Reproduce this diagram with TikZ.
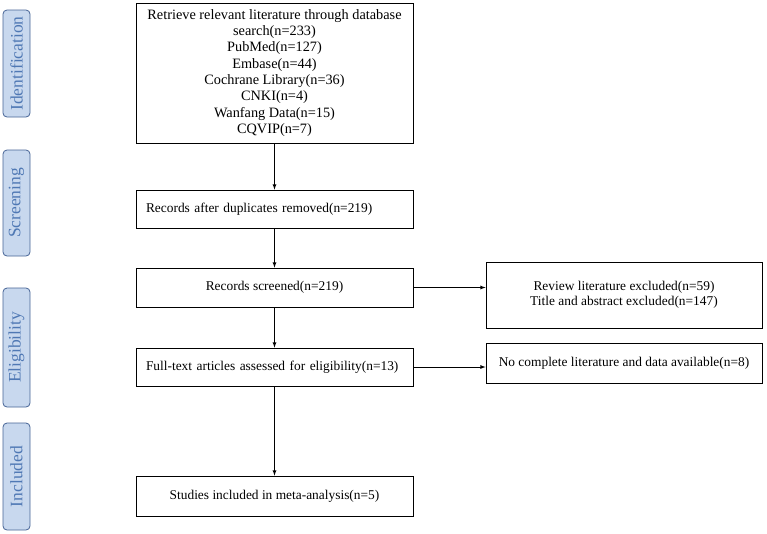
\documentclass[tikz,border=0pt]{standalone}
\usepackage{fontspec}
\setmainfont{Liberation Serif}
\begin{document}
\begin{tikzpicture}[x=1pt,y=-1pt,
  box/.style={draw=black,line width=0.8pt,fill=white,align=center,font=\fontsize{13.4}{15.5}\selectfont,inner sep=0pt},
  side/.style={draw={rgb,255:red,70;green,100;blue,150},fill={rgb,255:red,200;green,216;blue,238},rounded corners=4pt,line width=0.8pt,text={rgb,255:red,79;green,120;blue,180},font=\fontsize{17.5}{19}\selectfont},
  arr/.style={-latex,line width=0.8pt}]
\useasboundingbox (0,0) rectangle (767,533);
\foreach \n/\t/\a/\b in {s1/Identification/10/117, s2/Screening/150/256, s3/Eligibility/288/407, s4/Included/423/530}{
  \node[side,minimum width=107pt-\a pt+\b pt-107pt,minimum height=27pt,rotate=90] (\n) at (16.5,{(\a+\b)/2}) {\t};
}
\node[box,font=\fontsize{14.3}{16.3}\selectfont,minimum width=277pt,minimum height=140pt] (b1) at (274.5,73) {Retrieve relevant literature through database\\search(n=233)\\PubMed(n=127)\\Embase(n=44)\\Cochrane Library(n=36)\\CNKI(n=4)\\Wanfang Data(n=15)\\CQVIP(n=7)};
\node[box,minimum width=277pt,minimum height=38pt,text width=257pt,align=left] (b2) at (274.5,209) {Records after duplicates removed(n=219)};
\node[box,minimum width=277pt,minimum height=39pt] (b3) at (274.5,287.5) {Records screened(n=219)};
\node[box,minimum width=277pt,minimum height=38pt,text width=257pt,align=left] (b4) at (274.5,367) {Full-text articles assessed for eligibility(n=13)};
\node[box,minimum width=277pt,minimum height=40pt] (b5) at (274.5,496) {Studies included in meta-analysis(n=5)};
\node[box,minimum width=276pt,minimum height=66pt] (r1) at (624,295) {Review literature excluded(n=59)\\Title and abstract excluded(n=147)};
\node[box,minimum width=276pt,minimum height=40pt] (r2) at (624,363) {No complete literature and data available(n=8)};
\draw[arr] (b1) -- (b2);
\draw[arr] (b2) -- (b3);
\draw[arr] (b3) -- (b4);
\draw[arr] (b4) -- (b5);
\draw[arr] (b3.east) -- (r1.west|-b3.east);
\draw[arr] (b4.east) -- (r2.west|-b4.east);
\end{tikzpicture}
\end{document}
